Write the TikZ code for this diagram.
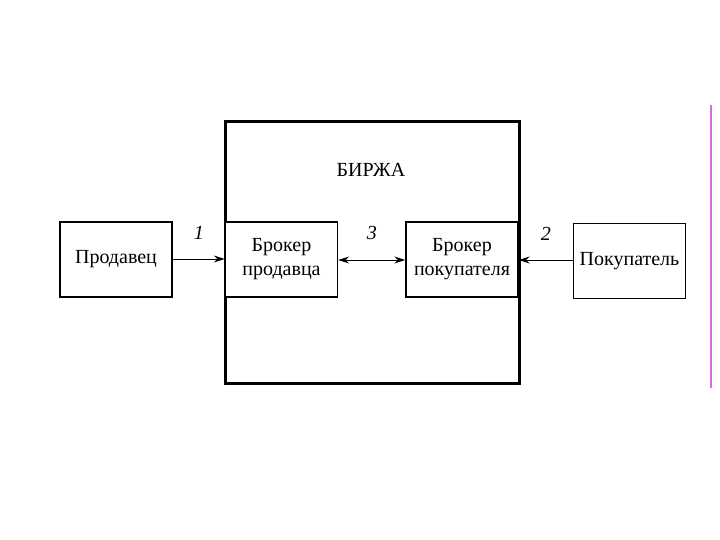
\documentclass[tikz,border=0pt]{standalone}
\usepackage{fontspec}
\setmainfont{Liberation Serif}
\usetikzlibrary{arrows.meta}
\begin{document}
\begin{tikzpicture}[x=1pt,y=-1pt,every node/.style={font=\fontsize{20}{24}\selectfont}]
    \tikzset{
      agent/.style={draw,rectangle,line width=1.4pt,minimum width=112pt,
        minimum height=75pt,align=center,inner sep=0pt},
      broker/.style={draw,rectangle,line width=1.4pt,minimum width=112pt,
        minimum height=75pt,align=center,inner sep=0pt,fill=white},
      market/.style={draw,rectangle,line width=2pt,minimum width=293pt,
        minimum height=261pt,inner sep=0pt},
      num/.style={font=\itshape\fontsize{20}{24}\selectfont},
      tip/.tip={Stealth[length=11pt,width=7pt]},
      arr/.style={-tip,line width=1pt}
    }
    \useasboundingbox (0,0) rectangle (720,540);
    \node[market] (birzha) at (372.5,252.5) {};
    \node at (371,170) {БИРЖА};

    \node[agent] (seller) at (116,259.5) {Продавец};
    \node[broker] (sbroker) at (281.5,259.5) {Брокер\\продавца};
    \node[broker] (bbroker) at (462,259.5) {Брокер\\покупателя};
    \node[agent] (buyer) at (629.5,261) {Покупатель};
    \draw[line width=2pt] (birzha.north west) rectangle (birzha.south east);

    \draw[arr] (seller.east |- 0,259) -- (sbroker.west |- 0,259)
      node[num,midway,above=16pt] {1};
    \draw[arr,tip-tip] (sbroker.east |- 0,260) -- (bbroker.west |- 0,260)
      node[num,midway,above=16pt] {3};
    \draw[arr] (buyer.west |- 0,260) -- (bbroker.east |- 0,260)
      node[num,midway,above=16pt] {2};

    % margin rule
    \coordinate (rtop) at (711,105);
    \coordinate (rbot) at (711,388);
    \draw[line width=1.2pt,color={rgb,255:red,214;green,110;blue,226}] (rtop) -- (rbot);
  \end{tikzpicture}
\end{document}
